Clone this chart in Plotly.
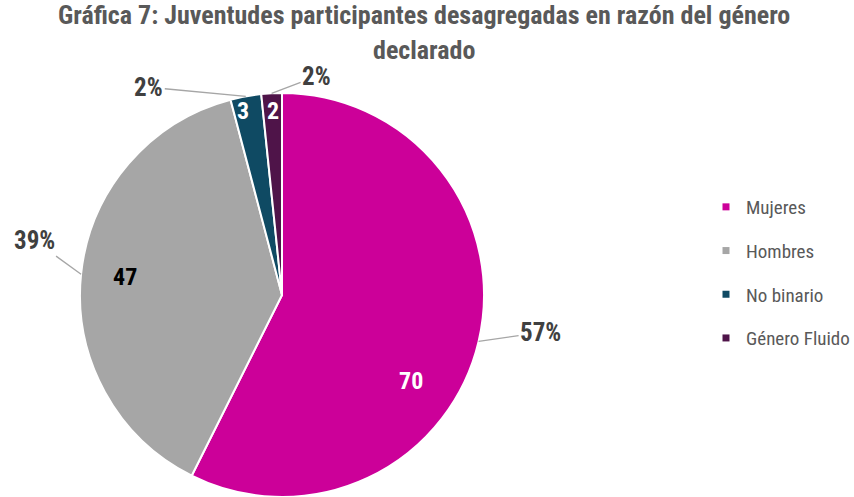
import math
import plotly.graph_objects as go

categories = ["Mujeres", "Hombres", "No binario", "Género Fluido"]
values = [70, 47, 3, 2]
colors = ["#CC0099", "#A6A6A6", "#0F4A63", "#4F1449"]
value_text_colors = ["white", "black", "white", "white"]
title_lines = ["Gráfica 7: Juventudes participantes desagregadas en razón del género", "declarado"]

FONT = "Roboto Condensed, Arial Narrow, Liberation Sans, Arial, sans-serif"
W, H = 854, 497


def fx(sx):  # screen x -> paper
    return sx / W


def fy(sy):  # screen y (from top) -> paper
    return 1 - sy / H


# pie geometry in screen pixels
cx, cy, R = 282, 295, 202
dom_x = [fx(cx - R), fx(cx + R)]
dom_y = [max(0.0, fy(cy + R)), fy(cy - R)]

fig = go.Figure()
fig.add_trace(go.Pie(
    labels=categories, values=values, sort=False, direction="clockwise", rotation=0,
    marker=dict(colors=colors, line=dict(color="white", width=2)),
    textinfo="none", showlegend=False, domain=dict(x=dom_x, y=dom_y),
    hoverinfo="label+value+percent",
))

# legend through dummy traces (allows Excel-like spacing)
for c, col in zip(categories, colors):
    fig.add_trace(go.Scatter(x=[None], y=[None], mode="markers", name=c, legendgroup=c,
                             marker=dict(symbol="square", size=7, color=col)))

total = sum(values)
# label styling: (radius fraction, angle nudge in degrees) for value labels,
# (ax, ay) pixel offsets for percentage labels
value_pos = [(0.77, 20.4), (0.78, 0.7), (0.93, -1.7), (0.91, 0.0)]
pct_offsets = [(62, -9), (-47, -34), (-97, -9), (45, -17)]
cum = 0
for v, (rf, dang), (ax, ay), tc in zip(values, value_pos, pct_offsets, value_text_colors):
    mid = (cum + v / 2) / total * 2 * math.pi
    cum += v
    a = mid + math.radians(dang)
    fig.add_annotation(
        x=fx(cx + rf * R * math.sin(a)), y=fy(cy - rf * R * math.cos(a)),
        xref="paper", yref="paper", showarrow=False, text=f"<b>{v}</b>",
        xanchor="center", yanchor="middle",
        font=dict(family=FONT, size=24, color=tc),
    )
    fig.add_annotation(
        x=fx(cx + R * math.sin(mid)), y=fy(cy - R * math.cos(mid)),
        xref="paper", yref="paper",
        text=f"<b>{round(100 * v / total)}%</b>",
        showarrow=True, arrowhead=0, arrowwidth=1.3, arrowcolor="#A6A6A6",
        ax=ax, ay=ay, standoff=0, startstandoff=0,
        font=dict(family=FONT, size=25, color="#404040"),
    )

# title (two centred lines)
for line, sy in zip(title_lines, [15, 50]):
    fig.add_annotation(x=fx(424), y=fy(sy), xref="paper", yref="paper", showarrow=False,
                       text=f"<b>{line}</b>", xanchor="center", yanchor="middle",
                       font=dict(family=FONT, size=26, color="#595959"))

fig.update_layout(
    width=W, height=H,
    margin=dict(l=0, r=0, t=0, b=0, autoexpand=False),
    paper_bgcolor="white", plot_bgcolor="white",
    xaxis=dict(visible=False), yaxis=dict(visible=False),
    legend=dict(x=fx(706), xanchor="left", y=fy(188), yanchor="top", tracegroupgap=16,
                font=dict(family=FONT, size=19, color="#595959"), bgcolor="rgba(0,0,0,0)"),
)

fig.write_html("out.html", config={"displayModeBar": False},
               post_script="document.body.style.margin='0';")
